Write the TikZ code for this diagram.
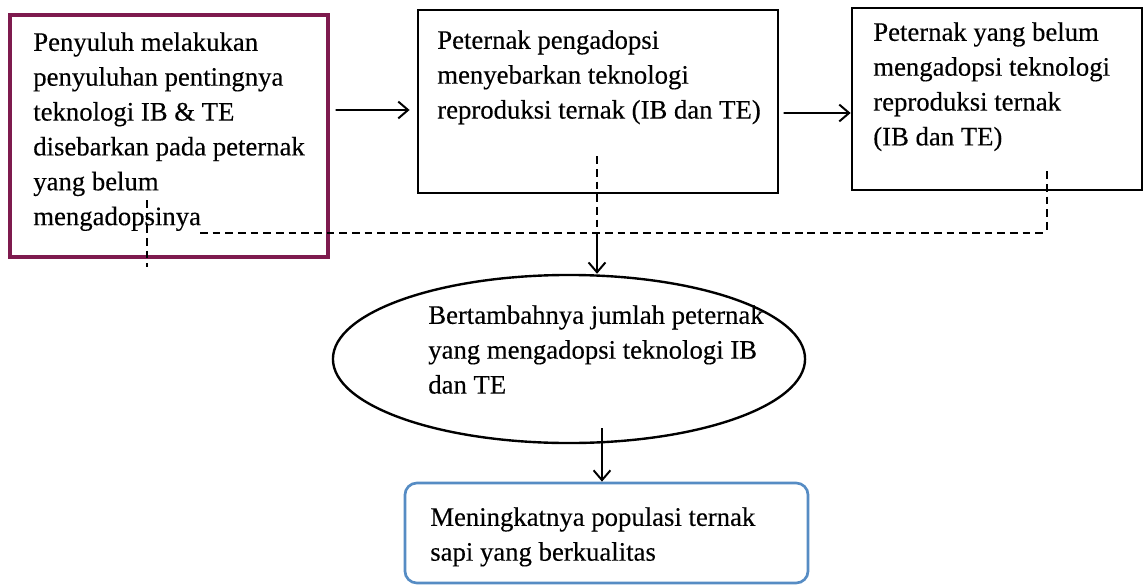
\documentclass[tikz,border=0pt]{standalone}
\usepackage{fontspec}
\setmainfont[FakeBold=0.3]{Liberation Serif}
\usetikzlibrary{shapes.geometric,arrows.meta}
\definecolor{boxmaroon}{RGB}{126,26,78}
\definecolor{boxblue}{RGB}{86,140,196}

\begin{document}
\begin{tikzpicture}[x=0.025cm,y=-0.025cm,
	box/.style={draw,line width=1.9pt,inner sep=0pt},
	txt/.style={anchor=north west,align=left,inner sep=0pt,font=\fontsize{19}{24.8}\selectfont},
	arr/.style={line width=1.4pt,-{Straight Barb[length=7pt,width=12pt]}},
	dsh/.style={line width=1.3pt,dash pattern=on 5.5pt off 3.5pt}]
			\useasboundingbox (0,0) rectangle (1145,586);
			
			\node[box,draw=boxmaroon,line width=2.8pt,minimum width=7.95cm,minimum height=6.05cm] (b1) at (169,136) {};
			\node[box,minimum width=9cm,minimum height=4.575cm] (b2) at (598,101.5) {};
			\node[box,minimum width=7.25cm,minimum height=4.55cm] (b3) at (997,99) {};
			\node[box,ellipse,line width=1.7pt,minimum width=11.8cm,minimum height=4.2cm] (e) at (569,359) {};
			\node[box,draw=boxblue,rounded corners=0.3cm,minimum width=10.075cm,minimum height=2.5cm] (b4) at (606.5,533) {};
			
			\node[txt] (t1) at (33,32) {Penyuluh melakukan\\penyuluhan pentingnya\\teknologi IB \& TE\\disebarkan pada peternak\\yang belum\\mengadopsinya};
			\node[txt] (t2) at (437,30) {Peternak pengadopsi\\menyebarkan teknologi\\reproduksi ternak (IB dan TE)};
			\node[txt] (t3) at (873,22) {Peternak yang belum\\mengadopsi teknologi\\reproduksi ternak\\(IB dan TE)};
			\node[txt] (t5) at (428,305) {Bertambahnya jumlah peternak\\yang mengadopsi teknologi IB\\dan TE};
			\node[txt] (t4) at (430,507) {Meningkatnya populasi ternak\\sapi yang berkualitas};
			
			\draw[arr,shorten <=4pt,shorten >=5pt] ([shift={(0,-26)}]b1.east) -- ([shift={(0,8.5)}]b2.west);
			\draw[arr,shorten <=3pt] ([shift={(0,11.5)}]b2.east) -- ([shift={(0,14)}]b3.west);
			
			\coordinate (dl) at (200,233);
			\coordinate (j) at (597,233);
			\coordinate (dr) at (1047,233);
			\draw[dsh] ([shift={(-1,-38)}]b2.south) -- (j);
			\draw[dsh] ([shift={(50,-20)}]b3.south) -- (dr);
			\draw[dsh] (dl) -- (dr);
			\draw[dsh] (147,200) -- (147,267);
			
			\draw[arr] (j) -- (j |- e.north);
			\draw[arr] ([shift={(33,-16)}]e.south) -- ([shift={(33,0)}]e.south |- b4.north);
\end{tikzpicture}
\end{document}
